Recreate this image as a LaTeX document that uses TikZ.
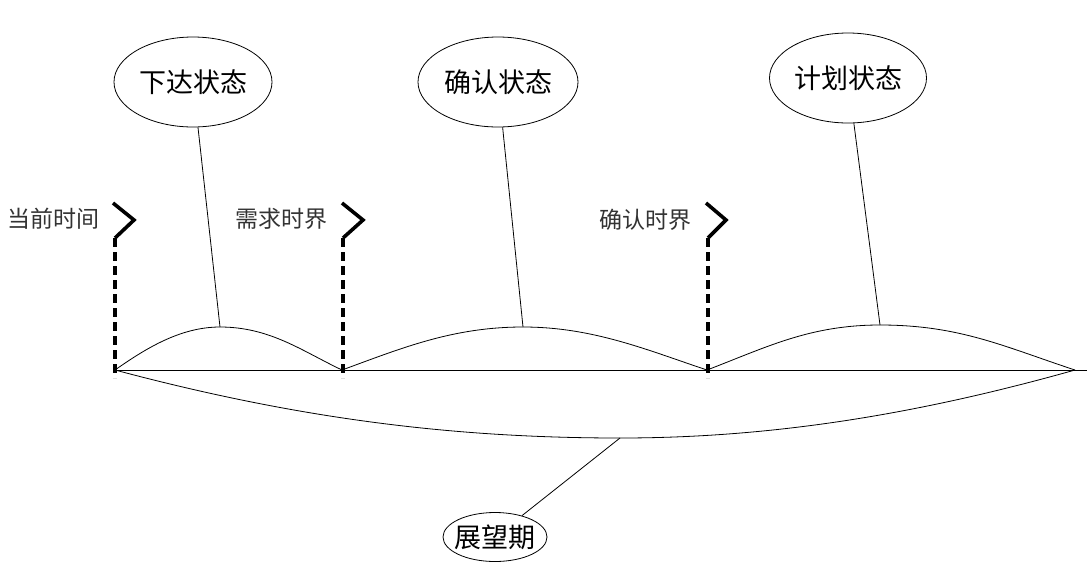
\documentclass[tikz,border=0pt]{standalone}
\usepackage{fontspec}
\newfontfamily\cjk{Noto Sans CJK SC}
\usetikzlibrary{shapes.geometric}
\begin{document}
\begin{tikzpicture}[x=1pt,y=-1pt,
  thin line/.style={draw=black,line width=0.8pt},
  statebox/.style={ellipse,draw=black,line width=0.8pt,inner sep=0pt,font=\cjk\fontsize{27}{31}\selectfont},
  marklabel/.style={font=\cjk\fontsize{23}{27}\selectfont,text=black!80,inner sep=0pt},
  chevron/.style={draw=black,line width=3.6pt,line join=miter},
  dashmark/.style={draw=black,line width=3.6pt,dash pattern=on 9pt off 5pt}]
\useasboundingbox (0,0) rectangle (1087,574);

% state ellipses
\node[statebox,minimum width=158pt,minimum height=90pt] (e1) at (193,82) {下达状态};
\node[statebox,minimum width=160pt,minimum height=90pt] (e2) at (498,82) {确认状态};
\node[statebox,minimum width=157pt,minimum height=90pt] (e3) at (848,78) {计划状态};
\node[statebox,minimum width=104pt,minimum height=49pt,inner xsep=-4pt,inner ysep=-2pt] (e4) at (495,537) {展望期};

% marker labels
\node[marklabel] (l1) at (54,219) {当前时间};
\node[marklabel] (l2) at (281,219) {需求时界};
\node[marklabel] (l3) at (645,220) {确认时界};

% timeline points
\coordinate (a) at (115,370);
\coordinate (b) at (342,370);
\coordinate (c) at (707,370);
\coordinate (d) at (1075,370);
\coordinate (z) at (1087,370);
\coordinate (p1) at (220,327);
\coordinate (p2) at (523,327);
\coordinate (p3) at (880,325);
\coordinate (p4) at (620,438);

% baseline
\draw[thin line] (a) -- (z);

% arcs
\draw[thin line] (a) .. controls (145,349) and (180,327) .. (p1)
                     .. controls (270,327) and (302,351) .. (b);
\draw[thin line] (b) .. controls (402,348) and (453,327) .. (p2)
                     .. controls (593,327) and (647,350) .. (c);
\draw[thin line] (c) .. controls (767,347) and (810,325) .. (p3)
                     .. controls (960,325) and (1005,347) .. (d);
\draw[thin line] (a) .. controls (295,418) and (450,438) .. (p4)
                     .. controls (770,438) and (915,415) .. (d);

% connectors
\draw[thin line] (p1) -- (e1);
\draw[thin line] (p2) -- (e2);
\draw[thin line] (p3) -- (e3);
\draw[thin line] (p4) -- (e4);

% markers
\coordinate (m1a) at (113,203); \coordinate (m1b) at (134,220); \coordinate (m1c) at (115,238); \coordinate (m1d) at (115,378);
\coordinate (m2a) at (342,203); \coordinate (m2b) at (363,220); \coordinate (m2c) at (343,238); \coordinate (m2d) at (343,378);
\coordinate (m3a) at (706,203); \coordinate (m3b) at (726,220); \coordinate (m3c) at (708,238); \coordinate (m3d) at (708,378);
\draw[chevron] (m1a) -- (m1b) -- (m1c);
\draw[chevron] (m2a) -- (m2b) -- (m2c);
\draw[chevron] (m3a) -- (m3b) -- (m3c);
\draw[dashmark] (m1c) -- (m1d);
\draw[dashmark] (m2c) -- (m2d);
\draw[dashmark] (m3c) -- (m3d);
\end{tikzpicture}
\end{document}
